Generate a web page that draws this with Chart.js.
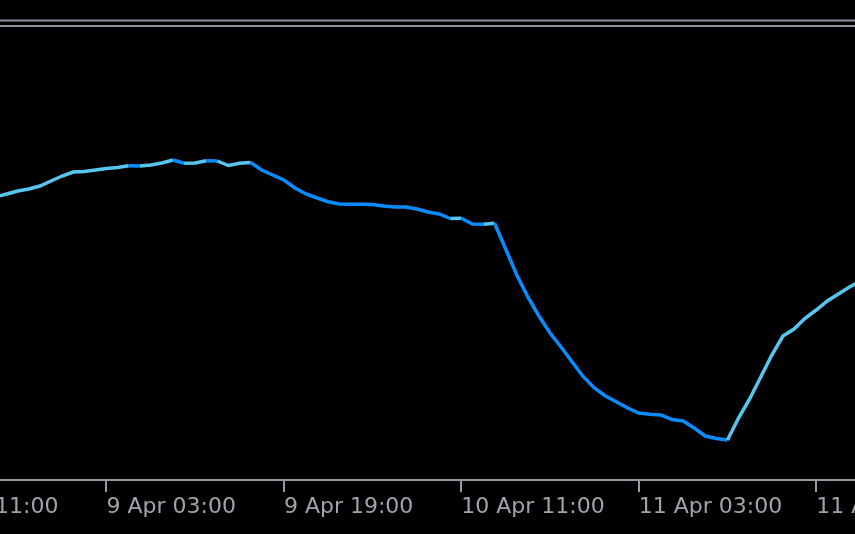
<!DOCTYPE html>
<html>
<head>
<meta charset="utf-8">
<script src="https://cdn.jsdelivr.net/npm/chart.js@4/dist/chart.umd.min.js"></script>
<style>
  html, body { margin: 0; padding: 0; background: #000; }
  #wrap { width: 855px; height: 534px; background: #000; }
  canvas { display: block; }
</style>
</head>
<body>
<div id="wrap"><canvas id="c" width="855" height="534"></canvas></div>
<script>
// Hours counted from 8 Apr 00:00 (one point per hourly bar)
const hours = [17,18,19,20,21,22,23,24,25,26,27,28,29,30,31,32,33,34,35,36,37,38,39,40,41,42,43,44,45,46,47,48,49,50,51,52,53,54,55,56,57,58,59,60,61,62,63,64,65,66,67,68,69,70,71,72,73,74,75,76,77,78,79,80,81,82,83,84,85,86,87,88,89,90,91,92,93,94,95];
// Indicator values (arbitrary units)
const values = [283,286,289,291,294,299,304,308,308.5,310,311.5,312.5,314.3,314,315,317,320,316.7,317,319.3,319,314.5,316.7,317.5,310,305,300,292,286,282,278.3,276,275.7,275.7,275.5,274,273,273,271,268,266,261.5,261.7,256,255.7,256.7,231,205,183,164,147,133,118,103.3,92,84,78,72,67,65.7,65,60.5,59,52,44,41.5,40,62,81,103,125,144,151,161.7,170,179,186,193,199];
// Trend state of each bar: 1 = up (light colour), -1 = down (dark colour)
const trend = [1,1,1,1,1,1,1,1,1,1,1,1,1,-1,1,1,1,-1,1,1,-1,1,1,1,-1,-1,-1,-1,-1,-1,-1,-1,-1,-1,-1,-1,-1,-1,-1,-1,-1,-1,1,-1,-1,1,-1,-1,-1,-1,-1,-1,-1,-1,-1,-1,-1,-1,-1,-1,-1,-1,-1,-1,-1,-1,-1,1,1,1,1,1,1,1,1,1,1,1,1];
// Horizontal level lines
const levels = [459.5, 454];
// X-axis tick positions (hours from 8 Apr 00:00) and their labels
const tickHours = [11, 27, 43, 59, 75, 91];
const tickLabels = ['8 Apr 11:00', '9 Apr 03:00', '9 Apr 19:00', '10 Apr 11:00', '11 Apr 03:00', '11 Apr 19:00'];

const X_MIN = 17.4, X_MAX = 94.5;
const UP = '#56c6ee', DOWN = '#0a8cff', GREY = '#9a9aa6', LEVEL = '#8c8c9c';

const mainData = hours.map((h, i) => ({ x: h, y: values[i] }));
const levelSets = levels.map(v => ({
  data: [{ x: X_MIN - 1, y: v }, { x: X_MAX + 1, y: v }],
  borderColor: LEVEL, borderWidth: 2, pointRadius: 0, fill: false, tension: 0
}));

new Chart(document.getElementById('c'), {
  type: 'line',
  data: {
    datasets: [
      ...levelSets,
      {
        data: mainData,
        borderWidth: 3.5,
        pointRadius: 0,
        tension: 0,
        fill: false,
        borderColor: UP,
        borderJoinStyle: 'miter',
        segment: {
          borderColor: ctx => trend[ctx.p1DataIndex] > 0 ? UP : DOWN
        }
      }
    ]
  },
  options: {
    responsive: false,
    animation: false,
    events: [],
    layout: { padding: 0 },
    plugins: { legend: { display: false }, tooltip: { enabled: false } },
    scales: {
      x: {
        type: 'linear',
        min: X_MIN,
        max: X_MAX,
        afterBuildTicks: scale => { scale.ticks = tickHours.map(v => ({ value: v })); },
        afterFit: scale => { scale.paddingLeft = 0; scale.paddingRight = 0; scale.height = 54; },
        border: { display: true, color: GREY, width: 2 },
        grid: { display: true, drawOnChartArea: false, drawTicks: true, tickLength: 12, color: GREY, lineWidth: 2 },
        ticks: {
          autoSkip: false,
          maxRotation: 0,
          minRotation: 0,
          align: 'start',
          padding: 2,
          color: '#a2a2ac',
          font: { family: 'DejaVu Sans', size: 22 },
          callback: (v) => { const i = tickHours.indexOf(v); return i >= 0 ? tickLabels[i] : ''; }
        }
      },
      y: {
        type: 'linear',
        display: false,
        min: 0,
        max: 480
      }
    }
  }
});
</script>
</body>
</html>
